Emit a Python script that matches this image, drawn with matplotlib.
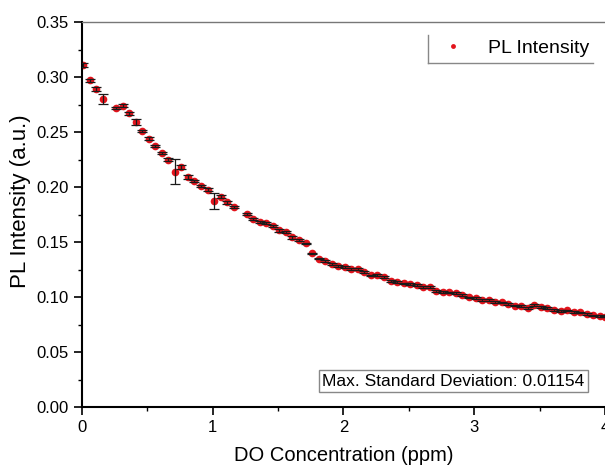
import matplotlib.pyplot as plt
from matplotlib.lines import Line2D

plt.rcParams['font.family'] = ['Liberation Sans', 'DejaVu Sans']

# DO concentration (ppm)
do_conc = [0.01, 0.06, 0.11, 0.16,
           0.26, 0.31, 0.36, 0.41, 0.46, 0.51, 0.56, 0.61, 0.66, 0.71,
           0.76, 0.81, 0.86, 0.91, 0.96, 1.01, 1.06, 1.11, 1.16,
           1.26, 1.31, 1.36, 1.41, 1.46, 1.51, 1.56, 1.61, 1.66, 1.71,
           1.76, 1.81, 1.86, 1.91, 1.96, 2.01, 2.06, 2.11, 2.16, 2.21,
           2.26, 2.31, 2.36, 2.41, 2.46, 2.51, 2.56, 2.61, 2.66, 2.71,
           2.76, 2.81, 2.86, 2.91, 2.96, 3.01, 3.06, 3.11, 3.16, 3.21,
           3.26, 3.31, 3.36, 3.41, 3.46, 3.51, 3.56, 3.61, 3.66, 3.71,
           3.76, 3.81, 3.86, 3.91, 3.96, 4.00]

# PL intensity (a.u.)
pl_int = [0.311, 0.297, 0.289, 0.280,
          0.272, 0.274, 0.267, 0.259, 0.251, 0.244, 0.237, 0.231, 0.225, 0.214,
          0.218, 0.209, 0.2055, 0.2006, 0.1976, 0.1876, 0.1912, 0.1861, 0.1818,
          0.1755, 0.1712, 0.1685, 0.1670, 0.1643, 0.1606, 0.1588, 0.1543, 0.1521, 0.1488,
          0.1397, 0.1348, 0.1330, 0.1300, 0.1285, 0.1276, 0.1252, 0.1252, 0.1225, 0.1197,
          0.1203, 0.1182, 0.1145, 0.1133, 0.1124, 0.1121, 0.1109, 0.1091, 0.1094, 0.1055,
          0.1043, 0.1043, 0.1039, 0.1018, 0.0997, 0.0991, 0.0973, 0.0970, 0.0955, 0.0952,
          0.0936, 0.0921, 0.0915, 0.0903, 0.0924, 0.0909, 0.0903, 0.0885, 0.0870, 0.0879,
          0.0864, 0.0861, 0.0843, 0.0836, 0.0827, 0.0822]

# desviacion estandar
pl_err = [0.0015, 0.0015, 0.0015, 0.0045,
          0.0012, 0.0015, 0.0015, 0.0030, 0.0012, 0.0012, 0.0010, 0.0010, 0.0015, 0.0115,
          0.0020, 0.0015, 0.0010, 0.0010, 0.0012, 0.0073, 0.0015, 0.0012, 0.0012,
          0.0010, 0.0010, 0.0010, 0.0010, 0.0010, 0.0015, 0.0010, 0.0012, 0.0010, 0.0005,
          0.0005, 0.0005, 0.0010, 0.0010, 0.0010, 0.0010, 0.0010, 0.0010, 0.0010, 0.0005,
          0.0010, 0.0005, 0.0010, 0.0010, 0.0005, 0.0010, 0.0010, 0.0010, 0.0010, 0.0010,
          0.0010, 0.0005, 0.0010, 0.0010, 0.0005, 0.0010, 0.0010, 0.0010, 0.0010, 0.0005,
          0.0010, 0.0005, 0.0010, 0.0010, 0.0010, 0.0005, 0.0010, 0.0010, 0.0010, 0.0005,
          0.0010, 0.0005, 0.0010, 0.0005, 0.0010, 0.0005]

max_std = 0.01154

fig = plt.figure(figsize=(6.05, 4.68), dpi=100)
ax = fig.add_axes([0.1355, 0.1303, 0.8645, 0.8226])

ax.plot(do_conc, pl_int, 'o', color='#e3141c', ms=5.5, mew=0, zorder=2)
ax.errorbar(do_conc, pl_int, yerr=pl_err, fmt='none', ecolor='#1a1a1a',
            elinewidth=0.9, capsize=3.6, capthick=0.9, zorder=3)

ax.set_xlim(0, 4)
ax.set_ylim(0, 0.35)
ax.set_xticks([0, 1, 2, 3, 4])
ax.set_xticks([0.5, 1.5, 2.5, 3.5], minor=True)
ax.set_yticks([0, 0.05, 0.10, 0.15, 0.20, 0.25, 0.30, 0.35])
ax.set_yticklabels(['0.00', '0.05', '0.10', '0.15', '0.20', '0.25', '0.30', '0.35'])
ax.set_yticks([0.025, 0.075, 0.125, 0.175, 0.225, 0.275, 0.325], minor=True)
ax.tick_params(which='major', direction='out', length=6, width=1.2, labelsize=12)
ax.tick_params(which='minor', direction='out', length=3, width=1.0)

ax.spines['left'].set_linewidth(1.5)
ax.spines['bottom'].set_linewidth(1.5)
ax.spines['top'].set_color('#777777')
ax.spines['top'].set_linewidth(1.0)
ax.spines['right'].set_visible(False)

ax.set_xlabel('DO Concentration (ppm)', fontsize=14.5, labelpad=8)
ax.set_ylabel('PL Intensity (a.u.)', fontsize=16)
ax.yaxis.set_label_coords(-0.097, 0.535)

# leyenda
h = Line2D([], [], ls='none', marker='o', color='#e3141c', ms=3.5, mew=0)
ax.legend([h], ['PL Intensity'], loc='upper right', bbox_to_anchor=(0.995, 0.99),
          frameon=False, fontsize=14, handletextpad=0.8, borderaxespad=0.3)
fig.add_artist(Line2D([428 / 605, 428 / 605], [1 - 35 / 468, 1 - 63 / 468], color='#888888', lw=1))
fig.add_artist(Line2D([428 / 605, 593 / 605], [1 - 63 / 468, 1 - 63 / 468], color='#888888', lw=1))

ax.text(0.961, 0.048, 'Max. Standard Deviation: %.5f' % max_std, transform=ax.transAxes,
        ha='right', va='bottom', fontsize=12.5,
        bbox=dict(boxstyle='square,pad=0.2', fc='white', ec='#888888', lw=1))

fig.savefig('out.png', dpi=100)
